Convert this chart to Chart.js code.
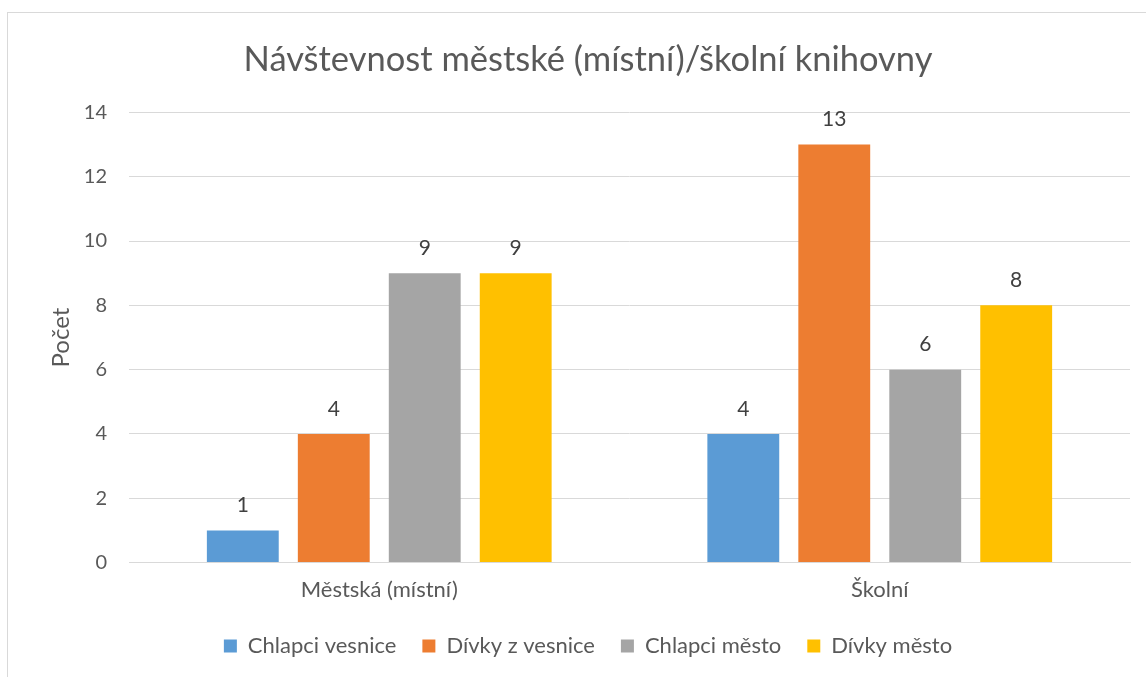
<!DOCTYPE html>
<html>
<head>
<meta charset="utf-8">
<script src="https://cdn.jsdelivr.net/npm/chart.js@4"></script>
<style>
    html, body { margin: 0; padding: 0; background: #fff; overflow: hidden; }
    .frame {
        position: absolute;
        left: 7px;
        top: 12px;
        width: 1160px;
        height: 680px;
        border: 1px solid #d9d9d9;
        box-sizing: border-box;
    }
</style>
</head>
<body>
<div class="frame">
    <canvas id="libraryChart" width="1158" height="678"></canvas>
</div>
<script>
// Data
const categories = ['Městská (místní)', 'Školní'];
const chlapciVesnice = [1, 4];
const divkyVesnice = [4, 13];
const chlapciMesto = [9, 6];
const divkyMesto = [9, 8];
const yTicks = [0, 2, 4, 6, 8, 10, 12, 14];

const textColor = '#595959';
const fontFamily = 'Lato, "Open Sans", sans-serif';

// Draws the value above each bar (no datalabels plugin offline)
const valueLabels = {
    id: 'valueLabels',
    afterDatasetsDraw(chart) {
        const ctx = chart.ctx;
        ctx.save();
        ctx.font = '21px ' + fontFamily;
        ctx.fillStyle = '#404040';
        ctx.textAlign = 'center';
        ctx.textBaseline = 'middle';
        chart.data.datasets.forEach((ds, i) => {
            chart.getDatasetMeta(i).data.forEach((bar, j) => {
                ctx.fillText(ds.data[j], bar.x, bar.y - 25);
            });
        });
        ctx.restore();
    }
};

const makeSet = (label, data, color) => ({
    label: label,
    data: data,
    backgroundColor: color,
    categoryPercentage: 0.727,
    barPercentage: 0.79,
});

const ctx = document.getElementById('libraryChart').getContext('2d');
const libraryChart = new Chart(ctx, {
    type: 'bar',
    data: {
        labels: categories,
        datasets: [
            makeSet('Chlapci vesnice', chlapciVesnice, '#5B9BD5'),
            makeSet('Dívky z vesnice', divkyVesnice, '#ED7D31'),
            makeSet('Chlapci město', chlapciMesto, '#A5A5A5'),
            makeSet('Dívky město', divkyMesto, '#FFC000'),
        ],
    },
    options: {
        responsive: false,
        animation: false,
        layout: {
            padding: { left: 38, right: 36, top: 0, bottom: 24 },
        },
        plugins: {
            title: {
                display: true,
                text: 'Návštevnost městské (místní)/školní knihovny',
                color: textColor,
                font: { family: fontFamily, size: 34.5, weight: 'normal' },
                padding: { top: 26, bottom: 32 },
            },
            legend: {
                position: 'bottom',
                labels: {
                    color: textColor,
                    font: { family: fontFamily, size: 22 },
                    boxWidth: 13,
                    boxHeight: 13,
                    padding: 26,
                },
            },
            tooltip: { enabled: false },
        },
        scales: {
            x: {
                grid: { display: false },
                border: { color: '#d9d9d9' },
                ticks: {
                    color: textColor,
                    font: { family: fontFamily, size: 22 },
                    padding: 6,
                },
            },
            y: {
                min: 0,
                max: 14,
                afterBuildTicks: (axis) => {
                    axis.ticks = yTicks.map(v => ({ value: v }));
                },
                afterFit: (axis) => {
                    axis.width = 83;
                },
                grid: { color: '#d9d9d9', drawTicks: false },
                border: { display: false },
                ticks: {
                    color: textColor,
                    font: { family: fontFamily, size: 20 },
                    padding: 22,
                },
                title: {
                    display: true,
                    text: 'Počet',
                    color: textColor,
                    font: { family: fontFamily, size: 24 },
                    padding: { top: 1, bottom: 0 },
                },
            },
        },
    },
    plugins: [valueLabels],
});
</script>
</body>
</html>
